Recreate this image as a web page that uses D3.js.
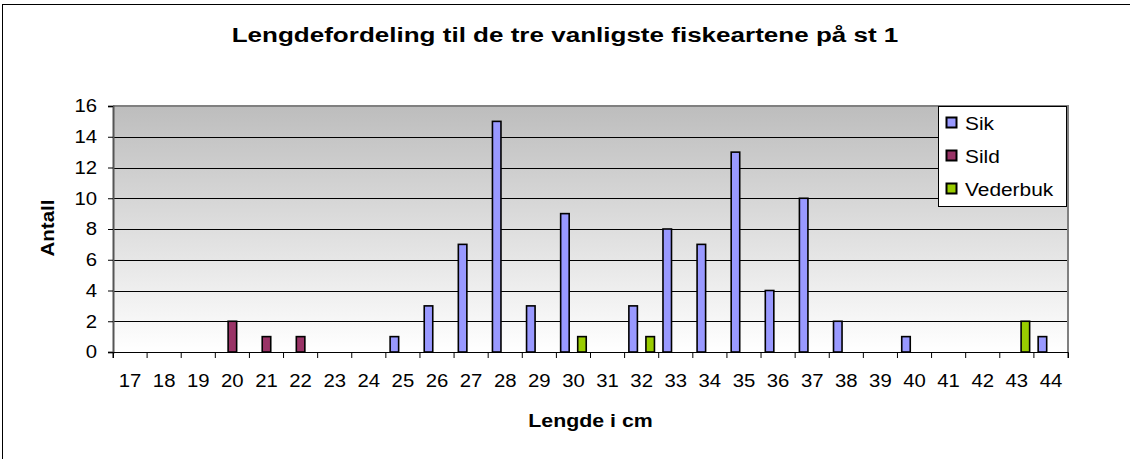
<!DOCTYPE html>
<html>
<head>
<meta charset="utf-8">
<script src="https://cdn.jsdelivr.net/npm/d3@7"></script>
<style>
    body { margin: 0; background: #fff; }
    text { font-family: Arial, "Liberation Sans", sans-serif; fill: #000; }
</style>
</head>
<body>
<svg id="chart"></svg>
<script>
//Categories (length in cm) and counts per species.
var lengths = [17, 18, 19, 20, 21, 22, 23, 24, 25, 26, 27, 28, 29, 30, 31, 32, 33, 34, 35, 36, 37, 38, 39, 40, 41, 42, 43, 44];
var sik      = [0, 0, 0, 0, 0, 0, 0, 0, 1, 3, 7, 15, 3, 9, 0, 3, 8, 7, 13, 4, 10, 2, 0, 1, 0, 0, 0, 1];
var sild     = [0, 0, 0, 2, 1, 1, 0, 0, 0, 0, 0, 0, 0, 0, 0, 0, 0, 0, 0, 0, 0, 0, 0, 0, 0, 0, 0, 0];
var vederbuk = [0, 0, 0, 0, 0, 0, 0, 0, 0, 0, 0, 0, 0, 1, 0, 1, 0, 0, 0, 0, 0, 0, 0, 0, 0, 0, 2, 0];
var seriesNames = ["Sik", "Sild", "Vederbuk"];
var seriesColors = ["#9999ff", "#993366", "#99cc00"];
var yTicks = [0, 2, 4, 6, 8, 10, 12, 14, 16];

(function () {
    var width = 1130, height = 459;
    var left = 113, right = 1068, top = 106, bottom = 352;

    var svg = d3.select("#chart")
        .attr("width", width)
        .attr("height", height);

    //Stretches text horizontally around its own anchor point.
    function stretch(sel, k) {
        sel.each(function () {
            var t = d3.select(this);
            var tx = +t.attr("x") || 0, ty = +t.attr("y") || 0;
            var prev = t.attr("transform") || "";
            t.attr("x", 0).attr("y", 0)
                .attr("transform", prev + " translate(" + tx + "," + ty + ") scale(" + k + ",1)");
        });
    }

    //Outer chart border.
    svg.append("rect")
        .attr("x", 2.5).attr("y", 4.5)
        .attr("width", 1140).attr("height", 470)
        .attr("fill", "#fff")
        .attr("stroke", "#000");

    //Gray to white gradient for the plot area.
    var grad = svg.append("defs").append("linearGradient")
        .attr("id", "bg")
        .attr("x1", 0).attr("y1", 0).attr("x2", 0).attr("y2", 1);
    grad.append("stop").attr("offset", "0%").attr("stop-color", "#bdbdbd");
    grad.append("stop").attr("offset", "100%").attr("stop-color", "#ffffff");

    var x = d3.scaleBand()
        .domain(lengths)
        .range([left, right]);

    var y = d3.scaleLinear()
        .domain([0, 16])
        .range([bottom, top]);

    var bw = x.bandwidth() / 4;
    var xs = d3.scaleBand()
        .domain(seriesNames)
        .range([bw / 2, x.bandwidth() - bw / 2]);

    svg.append("rect")
        .attr("x", left).attr("y", top)
        .attr("width", right - left).attr("height", bottom - top)
        .attr("fill", "url(#bg)");

    //Horizontal gridlines.
    svg.selectAll(".grid")
        .data(yTicks.filter(function (t) { return t > 0 && t < 16; }))
        .enter()
        .append("line")
        .attr("x1", left).attr("x2", right)
        .attr("y1", function (d) { return Math.round(y(d)) + 0.5; })
        .attr("y2", function (d) { return Math.round(y(d)) + 0.5; })
        .attr("stroke", "#000");

    //Plot area border.
    svg.append("path")
        .attr("d", "M" + left + "," + top + "H" + right + "V" + bottom)
        .attr("fill", "none")
        .attr("stroke", "#808080")
        .attr("stroke-width", 2);

    //Bars.
    var allSeries = [sik, sild, vederbuk];
    allSeries.forEach(function (vals, s) {
        svg.append("g")
            .selectAll("rect")
            .data(vals.map(function (v, i) { return { cat: lengths[i], v: v }; })
                .filter(function (d) { return d.v > 0; }))
            .enter()
            .append("rect")
            .attr("x", function (d) { return x(d.cat) + xs(seriesNames[s]); })
            .attr("y", function (d) { return y(d.v); })
            .attr("width", xs.bandwidth())
            .attr("height", function (d) { return bottom - y(d.v); })
            .attr("fill", seriesColors[s])
            .attr("stroke", "#000")
            .attr("stroke-width", 1.6);
    });

    //Y axis.
    var yAxis = d3.axisLeft(y).tickValues(yTicks).tickSize(5).tickPadding(11);
    var yg = svg.append("g")
        .attr("transform", "translate(" + left + ",0)")
        .call(yAxis);
    yg.select(".domain").attr("stroke", "#555").attr("stroke-width", 2);
    yg.selectAll("text").style("font-size", "18px").call(stretch, 1.13);

    //X axis.
    var xAxis = d3.axisBottom(x).tickSize(6).tickPadding(16);
    var xg = svg.append("g")
        .attr("transform", "translate(0," + bottom + ")")
        .call(xAxis);
    xg.select(".domain").attr("stroke", "#000");
    xg.selectAll(".tick line")
        .attr("transform", "translate(" + (-x.bandwidth() / 2) + ",0)");
    xg.append("line")
        .attr("x1", right).attr("x2", right)
        .attr("y1", 0).attr("y2", 6)
        .attr("stroke", "#000");
    xg.selectAll("text").style("font-size", "18px").call(stretch, 1.13);

    //Title and axis titles.
    svg.append("text")
        .attr("x", 565).attr("y", 42)
        .attr("text-anchor", "middle")
        .style("font-size", "21px")
        .style("font-weight", "bold")
        .text("Lengdefordeling til de tre vanligste fiskeartene på st 1")
        .call(stretch, 1.24);

    svg.append("text")
        .attr("x", (left + right) / 2).attr("y", 427)
        .attr("text-anchor", "middle")
        .style("font-size", "17.5px")
        .style("font-weight", "bold")
        .text("Lengde i cm")
        .call(stretch, 1.22);

    svg.append("text")
        .attr("transform", "translate(54,228) rotate(-90) scale(1.17,1)")
        .attr("text-anchor", "middle")
        .style("font-size", "17.5px")
        .style("font-weight", "bold")
        .text("Antall");

    //Legend.
    var legend = svg.append("g");
    legend.append("rect")
        .attr("x", 938.5).attr("y", 106.5)
        .attr("width", 128).attr("height", 100)
        .attr("fill", "#fff")
        .attr("stroke", "#000");
    seriesNames.forEach(function (name, i) {
        var cy = 123 + i * 33;
        legend.append("rect")
            .attr("x", 946.5).attr("y", cy - 5.5)
            .attr("width", 10).attr("height", 10)
            .attr("fill", seriesColors[i])
            .attr("stroke", "#000")
            .attr("stroke-width", 2);
        legend.append("text")
            .attr("x", 965).attr("y", cy + 7)
            .style("font-size", "18px")
            .text(name)
            .call(stretch, 1.16);
    });
})();
</script>
</body>
</html>
